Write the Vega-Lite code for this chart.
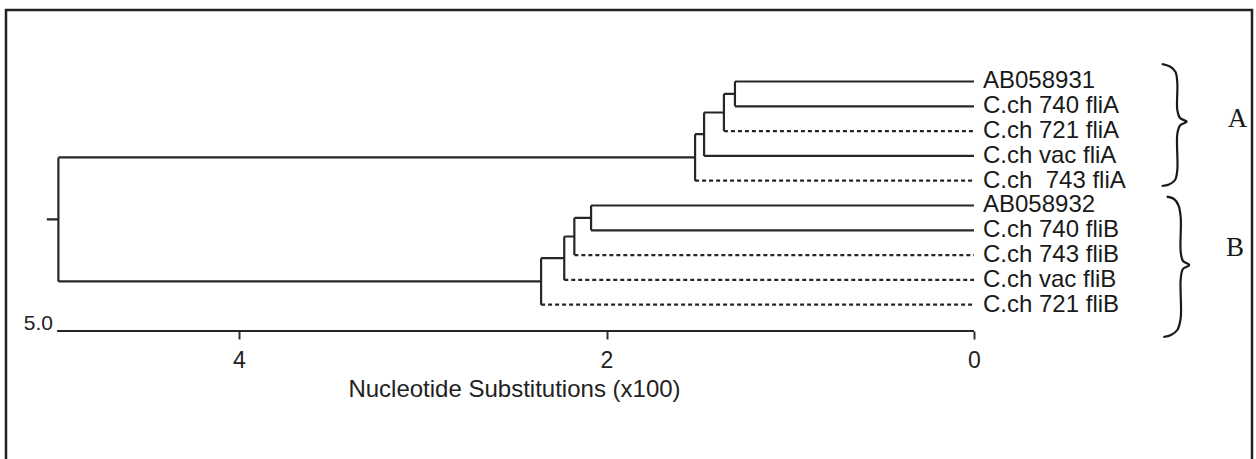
{
  "$schema": "https://vega.github.io/schema/vega-lite/v6.json",
  "width": 1246,
  "height": 452,
  "autosize": {"type": "none"},
  "padding": {"left": 6, "top": 10, "right": 4, "bottom": -3},
  "background": "white",
  "config": {"view": {"stroke": "#222222", "strokeWidth": 2.5}},
  "datasets": {
    "segments": [
      {"x": 1.301, "x2": 0, "y": 0, "y2": 0, "style": "solid"},
      {"x": 1.301, "x2": 0, "y": 1, "y2": 1, "style": "solid"},
      {"x": 1.361, "x2": 0, "y": 2, "y2": 2, "style": "dashed"},
      {"x": 1.469, "x2": 0, "y": 3, "y2": 3, "style": "solid"},
      {"x": 1.518, "x2": 0, "y": 4, "y2": 4, "style": "dashed"},
      {"x": 2.084, "x2": 0, "y": 5, "y2": 5, "style": "solid"},
      {"x": 2.084, "x2": 0, "y": 6, "y2": 6, "style": "solid"},
      {"x": 2.175, "x2": 0, "y": 7, "y2": 7, "style": "dashed"},
      {"x": 2.230, "x2": 0, "y": 8, "y2": 8, "style": "dashed"},
      {"x": 2.356, "x2": 0, "y": 9, "y2": 9, "style": "dashed"},
      {"x": 1.361, "x2": 1.301, "y": 0.5, "y2": 0.5, "style": "solid"},
      {"x": 1.469, "x2": 1.361, "y": 1.25, "y2": 1.25, "style": "solid"},
      {"x": 1.518, "x2": 1.469, "y": 2.125, "y2": 2.125, "style": "solid"},
      {"x": 4.983, "x2": 1.518, "y": 3.0625, "y2": 3.0625, "style": "solid"},
      {"x": 2.175, "x2": 2.084, "y": 5.5, "y2": 5.5, "style": "solid"},
      {"x": 2.230, "x2": 2.175, "y": 6.25, "y2": 6.25, "style": "solid"},
      {"x": 2.356, "x2": 2.230, "y": 7.125, "y2": 7.125, "style": "solid"},
      {"x": 4.983, "x2": 2.356, "y": 8.0625, "y2": 8.0625, "style": "solid"},
      {"x": 5.046, "x2": 4.983, "y": 5.5625, "y2": 5.5625, "style": "solid"},
      {"x": 1.301, "x2": 1.301, "y": 0, "y2": 1, "style": "solid"},
      {"x": 1.361, "x2": 1.361, "y": 0.5, "y2": 2, "style": "solid"},
      {"x": 1.469, "x2": 1.469, "y": 1.25, "y2": 3, "style": "solid"},
      {"x": 1.518, "x2": 1.518, "y": 2.125, "y2": 4, "style": "solid"},
      {"x": 2.084, "x2": 2.084, "y": 5, "y2": 6, "style": "solid"},
      {"x": 2.175, "x2": 2.175, "y": 5.5, "y2": 7, "style": "solid"},
      {"x": 2.230, "x2": 2.230, "y": 6.25, "y2": 8, "style": "solid"},
      {"x": 2.356, "x2": 2.356, "y": 7.125, "y2": 9, "style": "solid"},
      {"x": 4.983, "x2": 4.983, "y": 3.0625, "y2": 8.0625, "style": "solid"}
    ],
    "leaves": [
      {"x": 0, "y": 0, "label": "AB058931"},
      {"x": 0, "y": 1, "label": "C.ch 740 fliA"},
      {"x": 0, "y": 2, "label": "C.ch 721 fliA"},
      {"x": 0, "y": 3, "label": "C.ch vac fliA"},
      {"x": 0, "y": 4, "label": "C.ch \u00a0743 fliA"},
      {"x": 0, "y": 5, "label": "AB058932"},
      {"x": 0, "y": 6, "label": "C.ch 740 fliB"},
      {"x": 0, "y": 7, "label": "C.ch 743 fliB"},
      {"x": 0, "y": 8, "label": "C.ch vac fliB"},
      {"x": 0, "y": 9, "label": "C.ch 721 fliB"}
    ],
    "braces": [
      {"grp": "A", "i": 0, "x": -1.0215, "y": -0.706},
      {"grp": "A", "i": 1, "x": -1.0667, "y": -0.605},
      {"grp": "A", "i": 2, "x": -1.0966, "y": -0.383},
      {"grp": "A", "i": 3, "x": -1.1064, "y": 0.06},
      {"grp": "A", "i": 4, "x": -1.1064, "y": 1.149},
      {"grp": "A", "i": 5, "x": -1.1211, "y": 1.472},
      {"grp": "A", "i": 6, "x": -1.1576, "y": 1.621},
      {"grp": "A", "i": 7, "x": -1.1211, "y": 1.774},
      {"grp": "A", "i": 8, "x": -1.1064, "y": 2.117},
      {"grp": "A", "i": 9, "x": -1.1064, "y": 3.569},
      {"grp": "A", "i": 10, "x": -1.0939, "y": 3.972},
      {"grp": "A", "i": 11, "x": -1.0612, "y": 4.153},
      {"grp": "A", "i": 12, "x": -1.0215, "y": 4.214},
      {"grp": "B", "i": 0, "x": -1.0487, "y": 4.645},
      {"grp": "B", "i": 1, "x": -1.0884, "y": 4.738},
      {"grp": "B", "i": 2, "x": -1.1118, "y": 4.98},
      {"grp": "B", "i": 3, "x": -1.1249, "y": 5.464},
      {"grp": "B", "i": 4, "x": -1.1249, "y": 6.875},
      {"grp": "B", "i": 5, "x": -1.1374, "y": 7.238},
      {"grp": "B", "i": 6, "x": -1.1717, "y": 7.399},
      {"grp": "B", "i": 7, "x": -1.1374, "y": 7.56},
      {"grp": "B", "i": 8, "x": -1.1249, "y": 7.964},
      {"grp": "B", "i": 9, "x": -1.1249, "y": 9.536},
      {"grp": "B", "i": 10, "x": -1.1064, "y": 10.02},
      {"grp": "B", "i": 11, "x": -1.0721, "y": 10.222},
      {"grp": "B", "i": 12, "x": -1.0302, "y": 10.302}
    ],
    "groups": [
      {"x": -1.434, "y": 1.512, "label": "A"},
      {"x": -1.420, "y": 6.694, "label": "B"}
    ],
    "axisline": [{"x": 4.99, "x2": 0, "y": 10.06, "y2": 10.06}],
    "scalelabel": [{"x": 5.012, "y": 10.06, "label": "5.0"}]
  },
  "encoding": {
    "x": {
      "field": "x",
      "type": "quantitative",
      "scale": {"domain": [-1.5129, 5.2681], "reverse": true, "nice": false, "zero": false},
      "axis": {
        "values": [0, 2, 4],
        "format": "d",
        "domain": false,
        "grid": false,
        "ticks": true,
        "tickSize": 8,
        "tickWidth": 2,
        "tickColor": "#333333",
        "labelFont": "Liberation Sans",
        "labelFontSize": 23,
        "labelColor": "#222222",
        "labelPadding": 10,
        "offset": -131,
        "title": "Nucleotide Substitutions (x100)",
        "titleFont": "Liberation Sans",
        "titleFontSize": 24,
        "titleFontWeight": "normal",
        "titleColor": "#222222",
        "titleX": 508,
        "titleY": 65,
        "titleAlign": "center",
        "titleBaseline": "alphabetic"
      }
    },
    "y": {
      "field": "y",
      "type": "quantitative",
      "scale": {"domain": [-2.883, 15.343], "reverse": true, "nice": false, "zero": false},
      "axis": null
    }
  },
  "layer": [
    {
      "data": {"name": "segments"},
      "mark": {"type": "rule", "strokeWidth": 2.2, "color": "#262626"},
      "encoding": {
        "x2": {"field": "x2"},
        "y2": {"field": "y2"},
        "strokeDash": {
          "field": "style",
          "type": "nominal",
          "scale": {"domain": ["solid", "dashed"], "range": [[1, 0], [4, 3]]},
          "legend": null
        }
      }
    },
    {
      "data": {"name": "axisline"},
      "mark": {"type": "rule", "strokeWidth": 2.2, "color": "#262626"},
      "encoding": {"x2": {"field": "x2"}, "y2": {"field": "y2"}}
    },
    {
      "data": {"name": "scalelabel"},
      "mark": {"type": "text", "align": "right", "baseline": "alphabetic", "dy": -1, "font": "Liberation Sans", "fontSize": 21, "color": "#222222"},
      "encoding": {"text": {"field": "label"}}
    },
    {
      "data": {"name": "leaves"},
      "mark": {"type": "text", "align": "left", "baseline": "middle", "dx": 9, "font": "Liberation Sans", "fontSize": 24, "color": "#1a1a1a"},
      "encoding": {"text": {"field": "label"}}
    },
    {
      "data": {"name": "braces"},
      "mark": {"type": "line", "interpolate": "catmull-rom", "strokeWidth": 2.2, "color": "#1a1a1a"},
      "encoding": {
        "detail": {"field": "grp"},
        "order": {"field": "i", "type": "quantitative"}
      }
    },
    {
      "data": {"name": "groups"},
      "mark": {"type": "text", "align": "center", "baseline": "middle", "font": "Liberation Serif", "fontSize": 27, "color": "#1a1a1a"},
      "encoding": {"text": {"field": "label"}}
    }
  ]
}
